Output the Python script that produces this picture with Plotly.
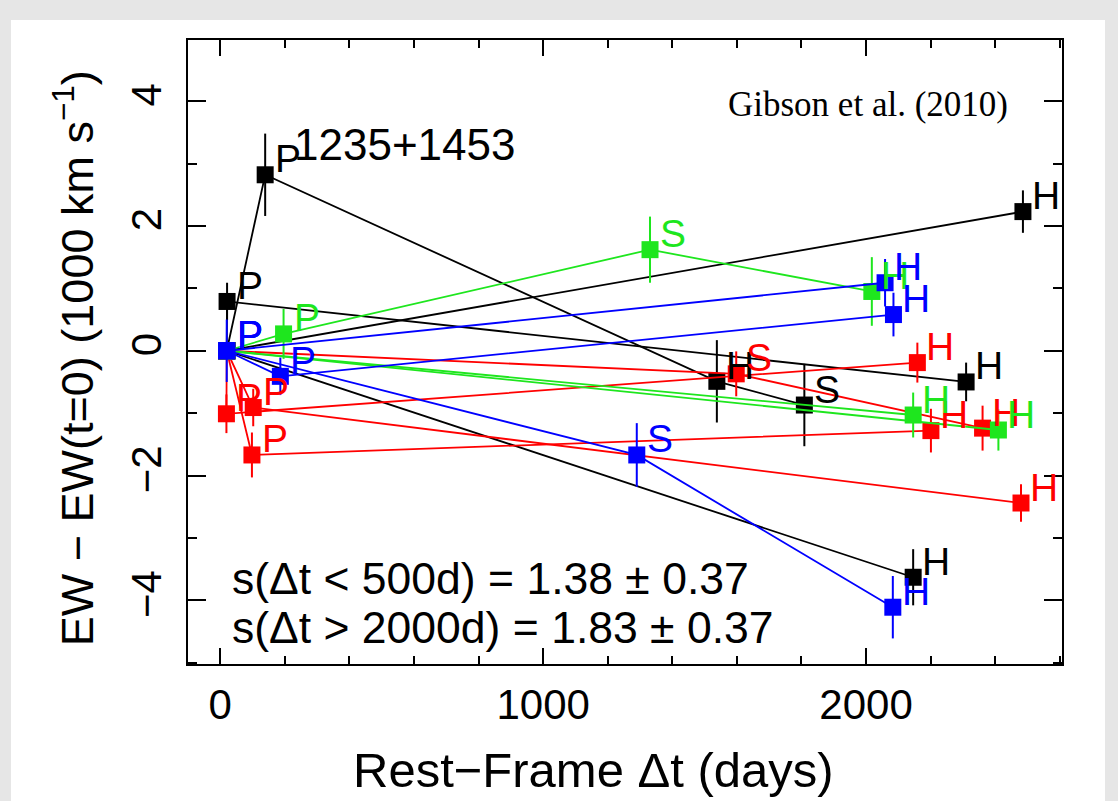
import plotly.graph_objects as go

# ---------------- data ----------------
# each series: rest-frame days, EW - EW(t=0) (1000 km/s), error, survey label
black_days = [[20, 21, 2310], [20, 139, 1538, 1809], [20, 2486], [20, 2146]]
black_ew = [[0, 0.79, -0.50], [0, 2.82, -0.49, -0.87], [0, 2.23], [0, -3.63]]
black_err = [[0, 0.30, 0.31], [0, 0.66, 0.66, 0.66], [0, 0.34], [0, 0.45]]
black_lab = [["", "P", "H"], ["", "P", "H", "S"], ["", "H"], ["", "H"]]

red_days = [[20, 19, 2159], [20, 102, 2480], [20, 98, 2201], [20, 1598, 2361]]
red_ew = [[0, -1.01, -0.19], [0, -0.91, -2.44], [0, -1.67, -1.28], [0, -0.37, -1.24]]
red_err = [[0, 0.31, 0.32], [0, 0.30, 0.30], [0, 0.36, 0.35], [0, 0.36, 0.36]]
red_lab = [["", "P", "H"], ["", "P", "H"], ["", "P", "H"], ["", "S", "H"]]

green_days = [[20, 196, 1331, 2018], [20, 2146], [20, 2410]]
green_ew = [[0, 0.27, 1.62, 0.95], [0, -1.03], [0, -1.27]]
green_err = [[0, 0.40, 0.53, 0.55], [0, 0.36], [0, 0.33]]
green_lab = [["", "P", "S", "H"], ["", "H"], ["", "H"]]

blue_days = [[20, 2059], [20, 186, 2085], [20, 1290, 2083]]
blue_ew = [[0, 1.09], [0, -0.41, 0.58], [0, -1.67, -4.11]]
blue_err = [[0, 0.38], [0, 0.30, 0.35], [0.5, 0.51, 0.50]]
blue_lab = [["P", "H"], ["P", "P", "H"], ["P", "S", "H"]]

object_name = "1235+1453"
stats_lines = ["s(Δt &lt; 500d) = 1.38 ± 0.37", "s(Δt &gt; 2000d) = 1.83 ± 0.37"]
credit = "Gibson et al. (2010)"

colors = {"black": "#000000", "red": "#ff0000", "green": "#1ee61e", "blue": "#0000ff"}
groups = [
    ("black", black_days, black_ew, black_err, black_lab),
    ("red", red_days, red_ew, red_err, red_lab),
    ("green", green_days, green_ew, green_err, green_lab),
    ("blue", blue_days, blue_ew, blue_err, blue_lab),
]

FONT = "Liberation Sans, Arial, sans-serif"

fig = go.Figure()
annotations = []
for name, D, E, ER, L in groups:
    c = colors[name]
    for d, e, er, lab in zip(D, E, ER, L):
        fig.add_trace(go.Scatter(
            x=d, y=e, mode="lines+markers",
            line=dict(color=c, width=1.8),
            marker=dict(symbol="square", size=17, color=c, line=dict(width=0)),
            error_y=dict(type="data", array=er, visible=True, width=0,
                         thickness=2, color=c),
            showlegend=False, hoverinfo="skip",
        ))
        for xi, yi, t in zip(d, e, lab):
            if t:
                annotations.append(dict(
                    x=xi, y=yi, xref="x", yref="y", text=t, showarrow=False,
                    xanchor="center", yanchor="middle", xshift=23, yshift=16,
                    font=dict(family=FONT, size=39, color=c)))

# object name next to the black P point
annotations.append(dict(
    x=black_days[1][1], y=black_ew[1][1], xref="x", yref="y", text=object_name,
    showarrow=False, xanchor="left", yanchor="middle", xshift=27, yshift=30,
    font=dict(family=FONT, size=44, color="black")))

# statistics text
for i, s in enumerate(stats_lines):
    annotations.append(dict(
        x=0.0480, y=[0.1378, 0.0577][i], xref="paper", yref="paper", text=s,
        showarrow=False, xanchor="left", yanchor="middle",
        font=dict(family=FONT, size=44.5, color="black")))

annotations.append(dict(
    x=0.9405, y=0.897, xref="paper", yref="paper", text=credit, showarrow=False,
    xanchor="right", yanchor="middle",
    font=dict(family="Liberation Serif, serif", size=35, color="black")))

# axis titles
annotations.append(dict(
    x=0.4645, y=-0.17, xref="paper", yref="paper", text="Rest−Frame Δt (days)",
    showarrow=False, xanchor="center", yanchor="middle",
    font=dict(family=FONT, size=49, color="black")))
annotations.append(dict(
    x=-0.1305, y=0.490, xref="paper", yref="paper",
    text="EW − EW(t=0) (1000 km s<sup>−1</sup>)", textangle=-90,
    showarrow=False, xanchor="center", yanchor="middle",
    font=dict(family=FONT, size=45, color="black")))

axis_common = dict(
    showline=True, linecolor="black", linewidth=2, mirror="allticks",
    ticks="inside", tickcolor="black", tickwidth=2, showgrid=False,
    zeroline=False, tickfont=dict(family=FONT, size=42, color="black"),
)
fig.update_xaxes(range=[-100, 2607], tickvals=[0, 1000, 2000], ticklen=16,
                 minor=dict(dtick=200, tick0=0, ticks="inside", ticklen=8,
                            tickwidth=2, tickcolor="black", showgrid=False),
                 ticklabelstandoff=3, **axis_common)
fig.update_yaxes(range=[-5.02, 4.98], tickvals=[-4, -2, 0, 2, 4], ticklen=18,
                 tickangle=-90,
                 minor=dict(dtick=1, tick0=0, ticks="inside", ticklen=9,
                            tickwidth=2, tickcolor="black", showgrid=False),
                 ticklabelstandoff=8, **axis_common)

fig.update_layout(
    width=1118, height=801,
    margin=dict(l=188, r=56, t=40, b=137),
    paper_bgcolor="#e6e6e6", plot_bgcolor="white",
    annotations=annotations,
    shapes=[dict(type="rect", xref="paper", yref="paper", layer="below",
                 x0=-0.2025, x1=1.0492, y0=-0.25, y1=1.032,
                 fillcolor="white", line=dict(width=0))],
)

fig.write_html("out.html")
